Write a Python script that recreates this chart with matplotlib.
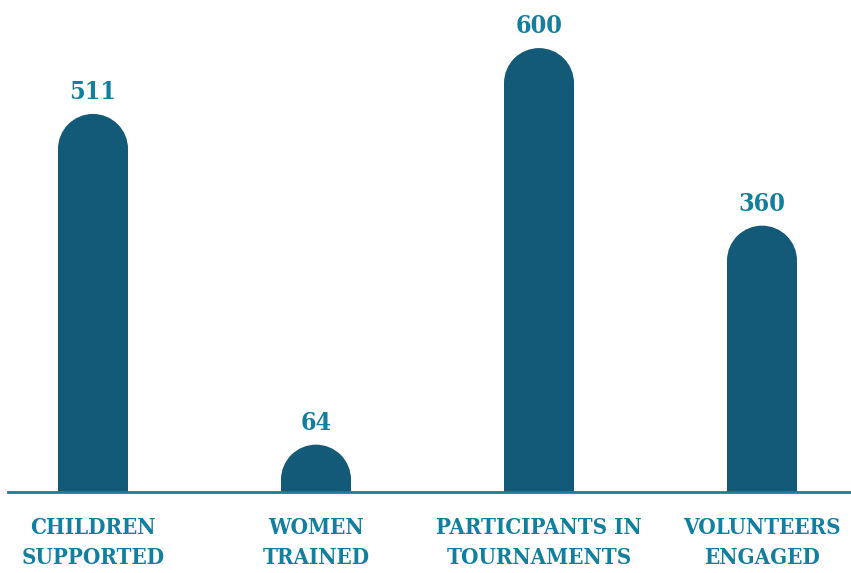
import matplotlib.pyplot as plt
from matplotlib.patches import Rectangle, Ellipse

categories = ["CHILDREN\nSUPPORTED", "WOMEN\nTRAINED", "PARTICIPANTS IN\nTOURNAMENTS", "VOLUNTEERS\nENGAGED"]
values = [511, 64, 600, 360]

BAR = "#135a78"
TEAL = "#127f9e"
FONT = dict(family="DejaVu Serif", weight="bold", stretch="condensed")

W, H, DPI = 851, 573, 100
fig = plt.figure(figsize=(W / DPI, H / DPI), dpi=DPI)
# axes in pixel terms: baseline 81px from bottom, up to the top edge
ax = fig.add_axes([0, 81 / H, 1, 1 - 81 / H])
ax.set_xlim(-0.417, 3.399)
ax.set_ylim(0, 665)
ax.axis("off")

bar_w = 0.314
# radius of the round cap in y units, so the cap is a true half circle
px_per_x = W / (3.399 + 0.417)
px_per_y = (H - 81) / 665
r_y = bar_w / 2 * px_per_x / px_per_y

for i, v in enumerate(values):
    ax.add_patch(Rectangle((i - bar_w / 2, 0), bar_w, v - r_y, color=BAR, lw=0))
    ax.add_patch(Ellipse((i, v - r_y), bar_w, 2 * r_y, color=BAR, lw=0))
    ax.annotate(str(v), (i, v), xytext=(0, 7), textcoords="offset points",
                ha="center", va="bottom", fontsize=18, color=TEAL, **FONT)
    ax.annotate(categories[i], (i, 0), xytext=(0, -18), textcoords="offset points",
                ha="center", va="top", fontsize=16, color=TEAL,
                linespacing=1.45, annotation_clip=False, **FONT)

ax.axhline(0, xmin=8 / W, xmax=1, color="#1a7f9f", lw=2, zorder=3, clip_on=False)

fig.savefig("out.png", dpi=DPI)
